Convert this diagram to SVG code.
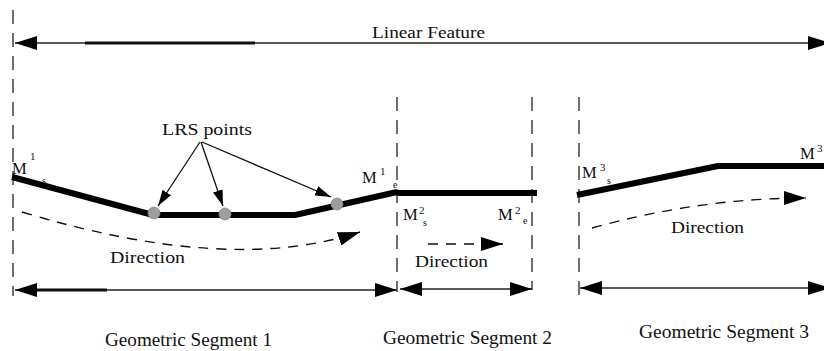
<svg xmlns="http://www.w3.org/2000/svg" width="824" height="351" viewBox="0 0 824 351" font-family="'Liberation Serif', 'Times New Roman', serif">
  <style>
    text { font-family: "Liberation Serif", "DejaVu Serif", "Times New Roman", serif; fill: #111; }
    .tx-main { font-size: 16.6px; }
    .tx-seg { font-size: 18px; }
    .tx-hi { font-size: 11px; }
    .tx-lo { font-size: 10px; }
    .guide { stroke: #222; stroke-width: 1.3; stroke-dasharray: 14 9; fill: none; }
    .dim { stroke: #222; stroke-width: 1.5; fill: none; }
    .dim-heavy { stroke: #111; stroke-width: 3; fill: none; }
    .geom { stroke: #000; stroke-width: 6; fill: none; stroke-linejoin: round; }
    .dir { stroke: #111; stroke-width: 1.4; stroke-dasharray: 10 8; fill: none; }
    .ptr { stroke: #111; stroke-width: 1.3; fill: none; }
    .lrs { fill: #9e9e9e; stroke: #888; stroke-width: 0.8; }
  </style>
  <defs>
    <marker id="dimHead" viewBox="0 0 22 14" refX="22" refY="7" markerWidth="22" markerHeight="14" markerUnits="userSpaceOnUse" orient="auto-start-reverse">
      <path d="M0,0 L22,7 L0,14 z" fill="#000"/>
    </marker>
    <marker id="dirHead" viewBox="0 0 22 14" refX="22" refY="7" markerWidth="22" markerHeight="14" markerUnits="userSpaceOnUse" orient="auto">
      <path d="M0,0 L22,7 L0,14 z" fill="#000"/>
    </marker>
    <marker id="ptrHead" viewBox="0 0 16 10" refX="16" refY="5" markerWidth="16" markerHeight="10" markerUnits="userSpaceOnUse" orient="auto">
      <path d="M0,0 L16,5 L0,10 z" fill="#000"/>
    </marker>
  </defs>

  <!-- vertical dashed extent guides -->
  <g id="guides">
    <line class="guide" x1="13" y1="10" x2="13" y2="296"/>
    <line class="guide" x1="397" y1="97" x2="397" y2="292"/>
    <line class="guide" x1="532" y1="97" x2="532" y2="290"/>
    <line class="guide" x1="579" y1="97" x2="579" y2="296"/>
  </g>

  <!-- whole linear feature extent -->
  <g id="linear-feature">
    <line class="dim" x1="15" y1="43" x2="830" y2="43" marker-start="url(#dimHead)" marker-end="url(#dimHead)"/>
    <line class="dim-heavy" x1="85" y1="43" x2="255" y2="43"/>
    <text class="tx-main" x="372" y="38" textLength="113" lengthAdjust="spacingAndGlyphs">Linear Feature</text>
  </g>

  <!-- geometric segment 1 -->
  <g id="segment-1">
    <polyline class="geom" points="12,177 153,215 295,215 397,192"/>
    <text class="tx-main" x="12" y="174">M</text>
    <text class="tx-hi" x="30" y="160">1</text>
    <text class="tx-lo" x="42" y="184">s</text>
    <text class="tx-main" x="362" y="183">M</text>
    <text class="tx-hi" x="380" y="175">1</text>
    <text class="tx-lo" x="393" y="188">e</text>
    <text class="tx-main" x="110" y="263" textLength="75" lengthAdjust="spacingAndGlyphs">Direction</text>
    <text class="tx-seg" x="105" y="346" textLength="167" lengthAdjust="spacingAndGlyphs">Geometric Segment 1</text>
  </g>

  <!-- geometric segment 2 -->
  <g id="segment-2">
    <line class="geom" x1="397" y1="193" x2="537" y2="193"/>
    <text class="tx-main" x="403" y="220">M</text>
    <text class="tx-hi" x="419" y="214">2</text>
    <text class="tx-lo" x="423" y="226">s</text>
    <text class="tx-main" x="498" y="220">M</text>
    <text class="tx-hi" x="515" y="214">2</text>
    <text class="tx-lo" x="523" y="224">e</text>
    <text class="tx-main" x="415" y="267" textLength="73" lengthAdjust="spacingAndGlyphs">Direction</text>
    <text class="tx-seg" x="383" y="344" textLength="169" lengthAdjust="spacingAndGlyphs">Geometric Segment 2</text>
  </g>

  <!-- geometric segment 3 -->
  <g id="segment-3">
    <polyline class="geom" points="577,195 718,166 830,166"/>
    <text class="tx-main" x="582" y="178">M</text>
    <text class="tx-hi" x="600" y="171">3</text>
    <text class="tx-lo" x="607" y="184">s</text>
    <text class="tx-main" x="800" y="159">M</text>
    <text class="tx-hi" x="817" y="152">3</text>
    <text class="tx-main" x="671" y="233" textLength="73" lengthAdjust="spacingAndGlyphs">Direction</text>
    <text class="tx-seg" x="639" y="338" textLength="170" lengthAdjust="spacingAndGlyphs">Geometric Segment 3</text>
  </g>

  <!-- LRS points on segment 1 -->
  <g id="lrs-points">
    <circle class="lrs" cx="154" cy="213" r="6"/>
    <circle class="lrs" cx="225" cy="214" r="6"/>
    <circle class="lrs" cx="337" cy="204" r="6"/>
    <text class="tx-main" x="162" y="135" textLength="90" lengthAdjust="spacingAndGlyphs">LRS points</text>
  </g>

  <!-- arrows: pointers, direction and segment extents -->
  <g id="connectors">
    <line class="ptr" x1="200" y1="142" x2="158" y2="206" marker-end="url(#ptrHead)"/>
    <line class="ptr" x1="201" y1="142" x2="223" y2="206" marker-end="url(#ptrHead)"/>
    <line class="ptr" x1="202" y1="142" x2="331" y2="197" marker-end="url(#ptrHead)"/>

    <path class="dir" d="M22,212 Q230,275 360,232" marker-end="url(#dirHead)"/>
    <path class="dir" d="M428,244 L503,244" marker-end="url(#dirHead)"/>
    <path class="dir" d="M592,228 Q700,198 806,198" marker-end="url(#dirHead)"/>

    <line class="dim" x1="15" y1="290" x2="397" y2="290" marker-start="url(#dimHead)" marker-end="url(#dimHead)"/>
    <line class="dim-heavy" x1="37" y1="290" x2="107" y2="290"/>
    <line class="dim" x1="400" y1="289" x2="532" y2="289" marker-start="url(#dimHead)" marker-end="url(#dimHead)"/>
    <line class="dim" x1="580" y1="288" x2="830" y2="288" marker-start="url(#dimHead)" marker-end="url(#dimHead)"/>
  </g>
</svg>
